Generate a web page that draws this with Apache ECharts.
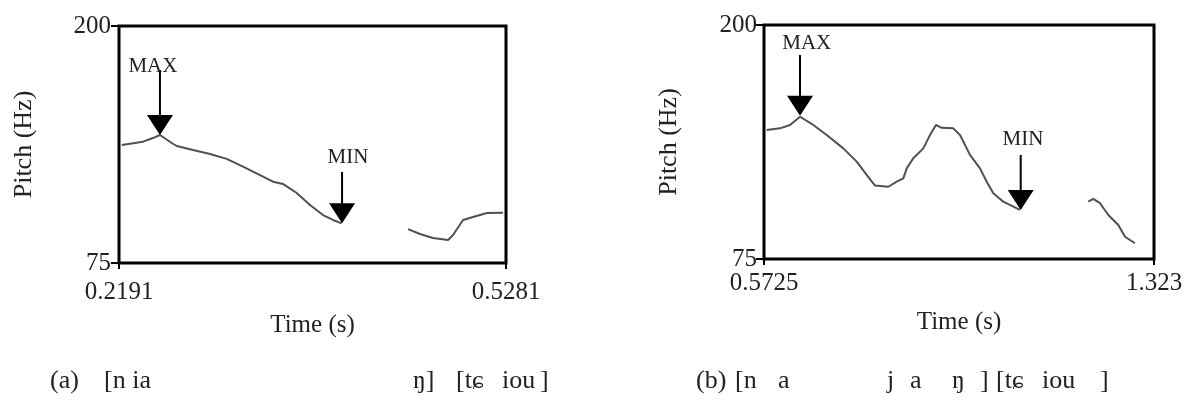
<!DOCTYPE html>
<html>
<head>
<meta charset="utf-8">
<script src="https://cdn.jsdelivr.net/npm/echarts@6/dist/echarts.min.js"></script>
<style>html,body{margin:0;padding:0;background:#fff}#c{width:1186px;height:400px}</style>
</head>
<body>
<div id="c"></div>
<script>
// ---- Panel (a) data ----
const timeA1  = [0.2213,0.2383,0.2462,0.2518,0.2612,0.2652,0.2782,0.2918,0.3051,0.3181,0.3317,0.3421,0.3500,0.3610,0.3716,0.3820,0.3900,0.3969];
const pitchA1 = [137.2,139.0,140.9,142.5,138.3,136.7,134.6,132.5,129.9,125.8,121.4,117.9,116.7,111.9,105.6,100.3,97.7,95.9];
const timeA2  = [0.4499,0.4594,0.4698,0.4818,0.4858,0.4938,0.5018,0.5129,0.5257];
const pitchA2 = [92.9,90.3,88.2,87.1,89.8,97.7,99.3,101.4,101.5];
const xTicksA = [0.2191,0.5281];
const xTickLabelsA = ['0.2191','0.5281'];

// ---- Panel (b) data ----
const timeB1  = [0.5777,0.6033,0.6225,0.6418,0.6674,0.6932,0.7251,0.7509,0.7701,0.7861,0.8117,0.8279,0.8406,0.8471,0.8598,0.8791,0.8919,0.9035,0.9145,0.9368,0.9497,0.9689,0.9882,1.0011,1.0138,1.0330,1.0651];
const pitchB1 = [143.9,144.8,146.6,151.0,146.6,141.2,134.1,127.0,119.9,114.2,113.6,116.3,118.1,123.4,128.8,134.1,141.2,146.6,145.1,144.8,141.2,130.6,123.4,116.3,110.1,105.6,101.2];
const timeB2  = [1.1966,1.2062,1.2191,1.2351,1.2543,1.2672,1.2864];
const pitchB2 = [105.6,107.1,104.8,98.5,93.2,86.9,83.4];
const xTicksB = [0.5725,1.323];
const xTickLabelsB = ['0.5725','1.323'];

const yTicks = [75,200];
const yTickLabels = ['75','200'];

// ---- Arrow annotations: tip time, tip pitch, tail pitch, label time, label pitch ----
const arrowLabelsA = ['MAX','MIN'];
const arrowTimeA   = [0.2518,0.3972];
const arrowTipA    = [142.5,95.9];
const arrowTailA   = [176.8,123.0];
const labelTimeA   = [0.2462,0.4019];
const labelPitchA  = [178.9,130.4];

const arrowLabelsB = ['MAX','MIN'];
const arrowTimeB   = [0.6418,1.0665];
const arrowTipB    = [151.5,101.2];
const arrowTailB   = [184.0,130.6];
const labelTimeB   = [0.6547,1.0709];
const labelPitchB  = [190.2,138.6];

const FONT = "'Liberation Serif','Times New Roman',serif";
const TXT = '#222';

function pairs(xs, ys){ return xs.map((x,i)=>[x, ys[i]]); }
function nearestLabel(vals, labels){
  return function(v){
    let best=0, d=Infinity;
    vals.forEach((t,i)=>{ const dd=Math.abs(t-v); if(dd<d){d=dd;best=i;} });
    return labels[best];
  };
}
function arrowData(ts, tips, tails, lts, lps){
  return ts.map((t,i)=>[t, tips[i], tails[i], lts[i], lps[i]]);
}
function makeArrowRender(labels){
  return function(params, api){
    const tip = api.coord([api.value(0), api.value(1)]);
    const tail = api.coord([api.value(0), api.value(2)]);
    const lab = api.coord([api.value(3), api.value(4)]);
    const w = 26, h = 20;
    return {type:'group', children:[
      {type:'line', shape:{x1:tip[0], y1:tail[1], x2:tip[0], y2:tip[1]-h+2}, style:{stroke:'#000', lineWidth:2}},
      {type:'polygon', shape:{points:[[tip[0]-w/2, tip[1]-h],[tip[0]+w/2, tip[1]-h],[tip[0], tip[1]]]}, style:{fill:'#000'}},
      {type:'text', x:lab[0], y:lab[1], style:{text:labels[params.dataIndex], fill:TXT, font:"21px "+FONT, align:'center', verticalAlign:'middle'}}
    ]};
  };
}

function xAxisCfg(grid, min, max, ticks, labels, margin, gap){
  return {
    type:'value', gridIndex:grid, min:min, max:max,
    name:'Time (s)', nameLocation:'middle', nameGap:gap,
    nameTextStyle:{fontFamily:FONT, fontSize:25, color:TXT},
    axisLine:{show:false}, splitLine:{show:false},
    axisTick:{show:true, customValues:ticks, length:6, lineStyle:{color:'#000', width:2}},
    axisLabel:{customValues:ticks, formatter:nearestLabel(ticks, labels), fontFamily:FONT, fontSize:25, color:TXT, margin:margin}
  };
}
function yAxisCfg(grid, margin){
  return {
    type:'value', gridIndex:grid, min:75, max:200,
    name:'Pitch (Hz)', nameLocation:'middle', nameGap:82, nameRotate:90,
    nameTextStyle:{fontFamily:FONT, fontSize:26, color:TXT},
    axisLine:{show:false}, splitLine:{show:false},
    axisTick:{show:true, customValues:yTicks, length:8, lineStyle:{color:'#000', width:2}},
    axisLabel:{customValues:yTicks, formatter:nearestLabel(yTicks, yTickLabels), fontFamily:FONT, fontSize:25, color:TXT, margin:margin}
  };
}
function curve(x, y, data){
  return {type:'line', xAxisIndex:x, yAxisIndex:y, data:data, showSymbol:false, symbol:'none',
    lineStyle:{color:'#505050', width:2}, silent:true, animation:false, smooth:false};
}

const chart = echarts.init(document.getElementById('c'));
const capFont = "26px " + FONT;
function cap(x, t){ return {type:'text', left:x, top:368, style:{text:t, font:capFont, fill:TXT}}; }

chart.setOption({
  animation:false,
  backgroundColor:'#fff',
  grid:[
    {left:119, top:26, width:387, height:237, show:true, borderColor:'#000', borderWidth:3, backgroundColor:'transparent'},
    {left:764, top:25, width:390, height:234, show:true, borderColor:'#000', borderWidth:3, backgroundColor:'transparent'}
  ],
  xAxis:[
    xAxisCfg(0, 0.2191, 0.5281, xTicksA, xTickLabelsA, 17, 50),
    xAxisCfg(1, 0.5725, 1.323, xTicksB, xTickLabelsB, 12, 51)
  ],
  yAxis:[ yAxisCfg(0, 8), yAxisCfg(1, 7) ],
  series:[
    curve(0,0,pairs(timeA1,pitchA1)),
    curve(0,0,pairs(timeA2,pitchA2)),
    curve(1,1,pairs(timeB1,pitchB1)),
    curve(1,1,pairs(timeB2,pitchB2)),
    {type:'custom', xAxisIndex:0, yAxisIndex:0, clip:false, silent:true,
      renderItem:makeArrowRender(arrowLabelsA), data:arrowData(arrowTimeA,arrowTipA,arrowTailA,labelTimeA,labelPitchA), z:5},
    {type:'custom', xAxisIndex:1, yAxisIndex:1, clip:false, silent:true,
      renderItem:makeArrowRender(arrowLabelsB), data:arrowData(arrowTimeB,arrowTipB,arrowTailB,labelTimeB,labelPitchB), z:5}
  ],
  graphic:[
    cap(50,'(a)'), cap(104,'[n ia'), cap(413,'ŋ]'), cap(456,'[tɕ'), cap(502,'iou'), cap(540,']'),
    cap(696,'(b)'), cap(735,'[n'), cap(778,'a'), cap(887,'j'), cap(910,'a'), cap(952,'ŋ'), cap(980,']'), cap(996,'[tɕ'), cap(1042,'iou'), cap(1100,']')
  ]
});
</script>
</body>
</html>
